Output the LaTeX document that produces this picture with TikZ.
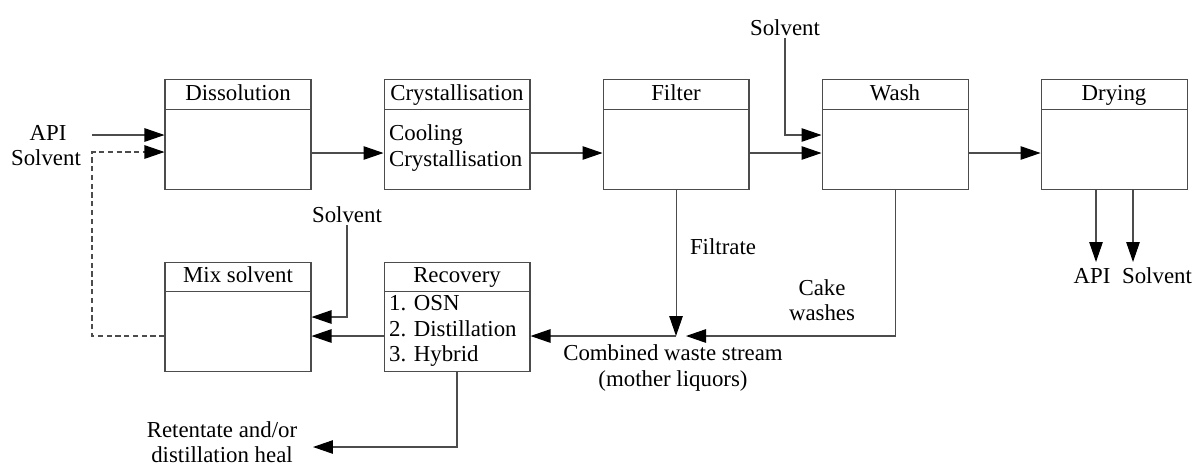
\documentclass[tikz,border=0pt]{standalone}
\usepackage{fontspec}
\setmainfont{Liberation Serif}
\usetikzlibrary{positioning,arrows.meta}

\begin{document}
\begin{tikzpicture}[x=0.02cm, y=-0.02cm,
		every node/.style={font=\fontsize{13}{14.5}\selectfont, inner sep=1pt},
		unit/.style={draw=black!70, line width=0.6pt, minimum width=2.92cm, minimum height=2.19cm, inner sep=0pt},
		head/.style={draw=black!70, line width=0.6pt, minimum width=2.92cm, minimum height=0.59cm, text height=1.8ex, text depth=0.3ex, anchor=north, inner sep=0pt},
		body/.style={align=left, anchor=west},
		flow/.style={draw=black!70, line width=0.6pt, -{Triangle[length=0.4cm, width=0.27cm, black]}},
		node distance=1.44cm and 1.44cm]
	\useasboundingbox (0,0) rectangle (1197,468);

	% process units
	\node[unit] (diss) at (238,134.3) {};
	\node[head] (dissh) at (diss.north) {Dissolution};
	\node[unit, right=of diss] (crys) {};
	\node[head] (crysh) at (crys.north) {Crystallisation};
	\node[body] (crysb) at ([xshift=0.07cm, yshift=-0.27cm]crys.west) {Cooling\\Crystallisation};
	\node[unit, right=of crys] (filt) {};
	\node[head] (filth) at (filt.north) {Filter};
	\node[unit, right=of filt] (wash) {};
	\node[head] (washh) at (wash.north) {Wash};
	\node[unit, right=of wash] (dry) {};
	\node[head] (dryh) at (dry.north) {Drying};

	\node[unit, below=of diss] (mix) {};
	\node[head] (mixh) at (mix.north) {Mix solvent};
	\node[unit, right=of mix] (rec) {};
	\node[head] (rech) at (rec.north) {Recovery};
	\node[body] (recb) at ([xshift=0.07cm, yshift=-0.29cm]rec.west) {1. OSN\\2. Distillation\\3. Hybrid};

	% stream labels
	\node (api) at (48,133) {API};
	\node (solv) at (46,158) {Solvent};
	\node (wsolv) at (785,28) {Solvent};
	\node (msolv) at (347,215) {Solvent};
	\node (dapi) at (1092,276) {API};
	\node (dsolv) at (1157,276) {Solvent};
	\node (filtrate) at (723,247) {Filtrate};
	\node[align=center] (cake) at (822,300) {Cake\\washes};
	\node[align=center] (waste) at (673,368) {Combined waste stream\\(mother liquors)};
	\node[align=center] (heal) at (222,442) {Retentate and/or\\distillation heal};

	\coordinate (top) at (0,153);
	\coordinate (bot) at (0,336);
	\coordinate (feed) at (92,135);
	\coordinate (loop) at (92,152);
	\coordinate (wfeed) at (786,135);
	\coordinate (mfeed) at (0,317);
	\coordinate (merge) at (686,336);
	\coordinate (healin) at (313,447);
	\coordinate (apiout) at (1096,262);
	\coordinate (solvout) at (1133,262);

	% main line
	\draw[flow] (feed) -- (diss.west |- feed);
	\draw[flow] (diss.east |- top) -- (crys.west |- top);
	\draw[flow] (crys.east |- top) -- (filt.west |- top);
	\draw[flow] (filt.east |- top) -- (wash.west |- top);
	\draw[flow] (wash.east |- top) -- (dry.west |- top);
	\draw[flow] (wsolv.south) |- (wash.west |- wfeed);
	\draw[flow] (dry.south -| apiout) -- (apiout);
	\draw[flow] (dry.south -| solvout) -- (solvout);

	% waste and recovery
	\draw[flow] (filt.south) -- (filt.south |- bot);
	\draw[flow] (wash.south) |- (merge);
	\draw[flow] (filt.south |- bot) -- (rec.east |- bot);
	\draw[flow] (rec.west |- bot) -- (mix.east |- bot);
	\draw[flow] (msolv.south) |- (mix.east |- mfeed);
	\draw[flow] (rec.south) |- (healin);
	\draw[flow, dash pattern=on 3pt off 2pt] (mix.west |- bot) -| (loop) -- (diss.west |- loop);
\end{tikzpicture}
\end{document}
